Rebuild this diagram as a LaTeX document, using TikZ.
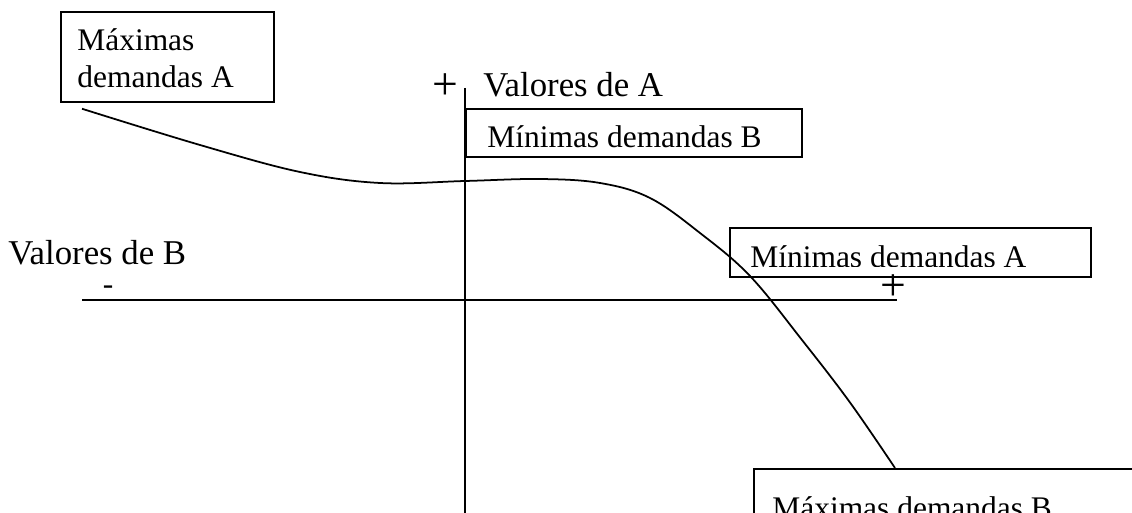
\documentclass[tikz,border=0pt]{standalone}
\usepackage{fontspec}
\setmainfont{Liberation Serif}

\tikzset{
  caja/.style={draw, line width=1pt, inner sep=0pt, anchor=north west},
  texto/.style={inner sep=0pt, anchor=base west, font=\fontsize{17.9}{21.5}\selectfont},
  titulo/.style={inner sep=0pt, anchor=base west, font=\fontsize{19.8}{24}\selectfont},
  signo/.style={inner sep=0pt, font=\fontsize{26}{30}\selectfont},
  eje/.style={line width=1pt},
  curva/.style={line width=1pt}
}

\begin{document}
\begin{tikzpicture}
\useasboundingbox (0,0) rectangle (22.64,-10.26);

% ejes
\coordinate (xi) at (1.64,-6.0);
\coordinate (xf) at (17.94,-6.0);
\coordinate (ys) at (9.3,-1.76);
\coordinate (yi) at (9.3,-10.5);
\draw[eje] (xi) -- (xf);
\draw[eje] (ys) -- (yi);

\node[signo] (masA) at (8.9,-1.74) {+};
\node[signo, font=\fontsize{17.9}{21.5}\selectfont] (menB) at (2.16,-5.8) {-};
\node[signo] (masB) at (17.86,-5.76) {+};
\node[titulo] (valA) at (9.66,-1.94) {Valores de A};
\node[titulo] (valB) at (0.16,-5.30) {Valores de B};

% cajas
\node[caja, minimum width=4.26cm, minimum height=1.80cm] (maxA) at (1.2,-0.22) {};
\node[caja, minimum width=6.72cm, minimum height=0.96cm] (minB) at (9.3,-2.16) {};
\node[caja, minimum width=7.22cm, minimum height=0.98cm] (minA) at (14.58,-4.54) {};
\node[caja, minimum width=8.00cm, minimum height=1.40cm] (maxB) at (15.06,-9.36) {};

\node[texto, align=left] (tmaxA) at ([shift={(0.34,-1.54)}]maxA.north west) {Máximas\\demandas A};
\begin{scope}
\clip (minB.north west) rectangle ([yshift=0.21cm]minB.south east);
\node[texto] (tminB) at ([shift={(0.44,-0.80)}]minB.north west) {Mínimas demandas B};
\end{scope}
\begin{scope}
\clip (minA.north west) rectangle ([yshift=0.23cm]minA.south east);
\node[texto] (tminA) at ([shift={(0.42,-0.82)}]minA.north west) {Mínimas demandas A};
\end{scope}
\node[texto] (tmaxB) at ([shift={(0.38,-1.0)}]maxB.north west) {Máximas demandas B};

% curva
\coordinate (ini) at ([shift={(0.44,-0.12)}]maxA.south west);
\coordinate (fin) at ([xshift=2.84cm]maxB.north west);
\draw[curva] plot[smooth, tension=0.6] coordinates {(ini) (4.0,-2.9) (6.0,-3.44) (7.6,-3.66) (9.3,-3.62) (10.8,-3.58) (12.0,-3.66) (13.0,-3.96) (14.0,-4.66) (15.0,-5.52) (16.04,-6.8) (17.0,-8.05) (fin)};
\end{tikzpicture}
\end{document}
